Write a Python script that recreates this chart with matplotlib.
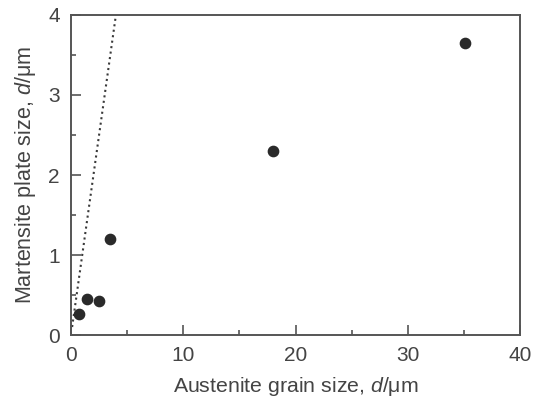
import numpy as np
import matplotlib
matplotlib.use('Agg')
from matplotlib import pyplot as plt
from matplotlib.ticker import MultipleLocator

plt.rcParams['font.family'] = ['Liberation Sans', 'DejaVu Sans']
plt.rcParams['mathtext.fontset'] = 'custom'
plt.rcParams['mathtext.it'] = 'Liberation Sans:italic'
plt.rcParams['mathtext.rm'] = 'Liberation Sans'

# austenite grain size vs martensite plate size (um)
grain_size = [0.75, 1.4, 2.5, 3.5, 18.0, 35.1]
plate_size = [0.26, 0.45, 0.42, 1.2, 2.3, 3.65]

# dotted reference line
line_x = [0.1, 4.0]
line_y = [0.1, 4.0]

txt = '#444444'

fig = plt.figure(figsize=(5.4, 4.03), dpi=100)
ax = fig.add_axes([0.1315, 0.1687, 0.8315, 0.7941])

ax.plot(line_x, line_y, c='#3a3a3a', ls=':', lw=1.5)
ax.plot(grain_size, plate_size, 'o', c='#2a2a2a', ms=7.4, mec='#2a2a2a')

ax.set_xlim([0, 40])
ax.set_ylim([0, 4])
ax.xaxis.set_major_locator(MultipleLocator(10))
ax.xaxis.set_minor_locator(MultipleLocator(5))
ax.yaxis.set_major_locator(MultipleLocator(1))
ax.yaxis.set_minor_locator(MultipleLocator(0.5))

ax.tick_params(which='both', direction='in', top=False, right=False,
               colors='#555555', labelcolor=txt, labelsize=15, width=1.2)
ax.tick_params(which='major', length=7, pad=8)
ax.tick_params(which='minor', length=3.5)

for s in ax.spines.values():
    s.set_color('#555555')
    s.set_linewidth(1.4)

ax.set_xlabel(r"Austenite grain size, $d$/$\mathrm{\mu}$m", color=txt,
              fontsize=15.3, labelpad=7)
ax.set_ylabel(r"Martensite plate size, $d$/$\mathrm{\mu}$m", color=txt,
              fontsize=15.5, labelpad=7)

plt.savefig('out.png', dpi=100)
plt.close()
